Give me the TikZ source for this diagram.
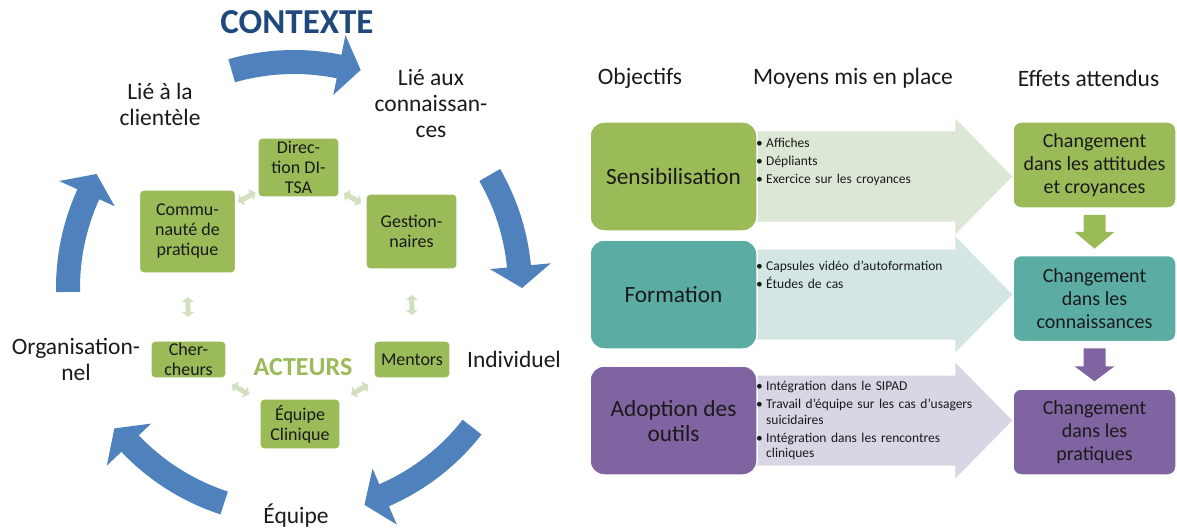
\documentclass[tikz,border=0pt]{standalone}
\usepackage{fontspec}
\setmainfont{Carlito}
\usetikzlibrary{calc,arrows.meta}

\definecolor{ctxblue}{HTML}{4F81BD}
\definecolor{ctxtitle}{HTML}{1F497D}
\definecolor{actgreen}{HTML}{9BBB59}
\definecolor{linkgreen}{HTML}{D3E0BF}
\definecolor{formteal}{HTML}{5BADA4}
\definecolor{adoppurple}{HTML}{8064A2}
\definecolor{sensfill}{HTML}{DDE7D6}
\definecolor{formfill}{HTML}{D4E6E4}
\definecolor{adopfill}{HTML}{DAD5E4}
\definecolor{txt}{HTML}{1A1A1A}

\newcommand{\bul}[1]{\hangindent=10pt\hangafter=1\noindent\makebox[10pt][l]{\textbullet}#1\par}

\begin{document}
\begin{tikzpicture}[x=1pt,y=1pt,
    actor/.style={fill=actgreen, draw=white, line width=1.2pt, rounded corners=4pt, align=center,
      inner sep=0pt, text=txt, font=\fontsize{18}{20}\selectfont},
    link/.style={linkgreen, line width=5pt, {Triangle[length=5pt,width=12pt]}-{Triangle[length=5pt,width=12pt]}},
    lbl/.style={align=center, text=txt, font=\fontsize{23.5}{26}\selectfont},
    objbox/.style={draw=white, line width=1.5pt, rounded corners=14pt, minimum width=167, minimum height=109,
      align=center, text=txt, font=\fontsize{23.3}{25}\selectfont},
    effbox/.style={draw=white, line width=1.5pt, rounded corners=8pt, minimum width=163, minimum height=86,
      align=center, text=txt, font=\fontsize{20}{23}\selectfont},
    bullets/.style={anchor=north west, inner sep=0pt, text width=260pt, text=txt,
      font={\fontsize{13.5}{15.5}\selectfont\setlength{\parskip}{2.5pt}}}]
  \useasboundingbox (0,0) rectangle (1177,531);

  % context arrows
  \begin{scope}[shift={(294,243)}]
    \foreach \a/\t in {106/73,30/0,-38/-72,-108/-142,-179/-210}{
      \pgfmathsetmacro{\h}{\t+5.5}
      \fill[ctxblue] (\a:238pt) arc[start angle=\a, end angle=\h, radius=238pt] -- (\h:258pt)
        -- (\t:228pt) -- (\h:197pt) -- (\h:214pt) arc[start angle=\h, end angle=\a, radius=214pt] -- cycle;
    }
  \end{scope}
  \node[font=\fontsize{35}{40}\selectfont\bfseries, text=ctxtitle] (ctx) at (297,509) {CONTEXTE};
  \node[lbl] (liecli) at (160,427) {Lié à la\\clientèle};
  \node[lbl] (liecon) at (431,427) {Lié aux\\connaissan-\\ces};
  \node[lbl] (indiv) at (514,172) {Individuel};
  \node[lbl] (orga) at (76,172) {Organisation-\\nel};
  \node[lbl] (equlbl) at (296,15) {Équipe};

  % actors
  \node[actor, minimum width=81, minimum height=59] (dir) at (298.5,363.5) {Direc-\\tion DI-\\TSA};
  \node[actor, minimum width=96, minimum height=83] (commu) at (187.5,299.5) {Commu-\\nauté de\\pratique};
  \node[actor, minimum width=91, minimum height=75] (gest) at (411.5,299.5) {Gestion-\\naires};
  \node[actor, minimum width=75, minimum height=37] (cher) at (188.5,171.5) {Cher-\\cheurs};
  \node[actor, minimum width=76, minimum height=37] (ment) at (412,171.5) {Mentors};
  \node[actor, minimum width=80, minimum height=50] (equ) at (300,107) {Équipe\\Clinique};
  \node[font=\fontsize{26}{30}\selectfont\bfseries, text=actgreen] (act) at (303,164) {ACTEURS};

  % links between actors
  \foreach \p/\q in {commu/dir,dir/gest,commu.south/cher.north,gest.south/ment.north,cher/equ,ment/equ}{
    \path (\p) -- (\q) coordinate[pos=0.5] (m);
    \draw[link] ($(m)!10pt!(\p)$) -- ($(m)!10pt!(\q)$);
  }

  % headers
  \node[lbl] (hobj) at (640,453) {Objectifs};
  \node[lbl] (hmoy) at (853,453) {Moyens mis en place};
  \node[lbl] (heff) at (1088.5,453) {Effets attendus};

  % objectives and effects
  \node[effbox, fill=actgreen] (eff1) at (1094.5,366) {Changement\\dans les attitudes\\et croyances};
  \node[effbox, fill=formteal] (eff2) at (1094.5,232.5) {Changement\\dans les\\connaissances};
  \node[effbox, fill=adoppurple] (eff3) at (1094.5,99) {Changement\\dans les\\pratiques};
  \path (673.5,354.5) coordinate (o1) (673.5,236.5) coordinate (o2) (673.5,110.5) coordinate (o3);
  \foreach \i/\c in {1/sensfill,2/formfill,3/adopfill}{
    \fill[\c] let \p1=(o\i), \p2=(eff\i.west) in
      (\x1+66pt,\y1+45pt) -- (\x2-57pt,\y1+45pt) -- (\x2-57pt,\y1+58pt) -- (\x2,\y1)
      -- (\x2-57pt,\y1-58pt) -- (\x2-57pt,\y1-45pt) -- (\x1+66pt,\y1-45pt) -- cycle;
  }
  \node[objbox, fill=actgreen] (obj1) at (o1) {Sensibilisation};
  \node[objbox, fill=formteal] (obj2) at (o2) {Formation};
  \node[objbox, fill=adoppurple] (obj3) at (o3) {Adoption des\\outils};

  % means
  \node[bullets] (moy1) at (756,393) {\bul{Affiches}\bul{Dépliants}\bul{Exercice sur les croyances}};
  \node[bullets] (moy2) at (756,270) {\bul{Capsules vidéo d’autoformation}\bul{Études de cas}};
  \node[bullets] (moy3) at (756,150) {\bul{Intégration dans le SIPAD}\bul{Travail d’équipe sur les cas d’usagers\newline suicidaires}\bul{Intégration dans les rencontres\newline cliniques}};

  % down arrows between effects
  \fill[actgreen] ($(eff1.south)+(-11,-6)$) -- ++(22,0) -- ++(0,-17) -- ++(9,0) -- ++(-20,-17)
    -- ++(-20,17) -- ++(9,0) -- cycle;
  \fill[adoppurple] ($(eff2.south)+(-11,-6)$) -- ++(22,0) -- ++(0,-18) -- ++(9,0) -- ++(-20,-15)
    -- ++(-20,15) -- ++(9,0) -- cycle;
\end{tikzpicture}
\end{document}
